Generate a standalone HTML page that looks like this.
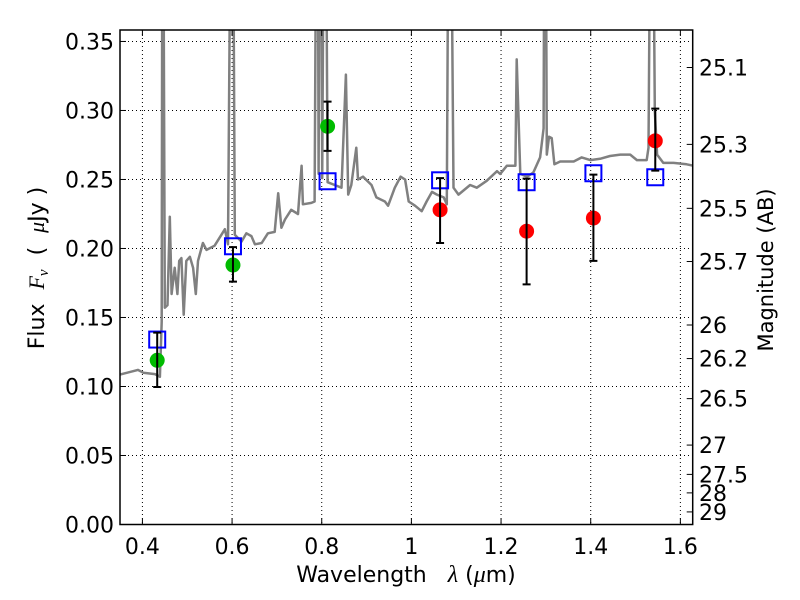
<!DOCTYPE html>
<html><head><meta charset="utf-8"><style>
body{margin:0;background:#fff}
svg{display:block;font-family:"DejaVu Sans","Liberation Sans",sans-serif}
</style></head><body>
<svg id="chart" width="800" height="600" viewBox="0 0 800 600">
<defs><clipPath id="plotclip"><rect x="120" y="30" width="572.7" height="494.5"/></clipPath></defs>
<rect x="0" y="0" width="800" height="600" fill="#fff"/>
<g id="grid"></g>
<g id="spec" clip-path="url(#plotclip)"></g>
<g id="marks"></g>
<rect x="120" y="30" width="572.7" height="494.5" fill="none" stroke="#000" stroke-width="1.5"/>
<g id="ticks"></g>
<text x="406" y="582" font-size="22" text-anchor="middle" xml:space="preserve">Wavelength   <tspan font-family="Liberation Serif" font-style="italic" font-size="24">λ</tspan> (<tspan font-family="Liberation Serif" font-style="italic" font-size="24">μ</tspan>m)</text>
<text transform="translate(44,268) rotate(-90)" font-size="22" text-anchor="middle" xml:space="preserve">Flux  <tspan font-family="Liberation Serif" font-style="italic">F<tspan font-size="15" dy="4">ν</tspan></tspan><tspan dy="-4">  (  </tspan><tspan font-family="Liberation Serif" font-style="italic">μ</tspan>Jy )</text>
<text transform="translate(773,270) rotate(-90)" font-size="21" text-anchor="middle">Magnitude (AB)</text>
</svg>
<script>
const specLam=[0.35,0.390,0.402,0.428,0.439,0.443,0.445,0.450,0.456,0.461,0.465,0.472,0.478,0.482,0.487,0.492,0.498,0.506,0.513,0.519,0.524,0.535,0.543,0.561,0.584,0.591,0.600,0.606,0.621,0.632,0.643,0.651,0.666,0.680,0.695,0.703,0.710,0.718,0.732,0.747,0.755,0.758,0.777,0.784,0.790,0.793,0.797,0.801,0.807,0.813,0.829,0.844,0.854,0.859,0.866,0.877,0.881,0.892,0.911,0.922,0.941,0.948,0.963,0.976,0.986,0.994,1.008,1.023,1.034,1.046,1.057,1.072,1.079,1.085,1.094,1.105,1.131,1.146,1.168,1.191,1.198,1.213,1.232,1.235,1.243,1.258,1.272,1.287,1.295,1.298,1.302,1.307,1.313,1.319,1.332,1.362,1.380,1.399,1.421,1.443,1.466,1.488,1.503,1.525,1.529,1.536,1.543,1.548,1.562,1.585,1.614,1.629];
const specFlux=[0.1086,0.112,0.110,0.109,0.107,0.147,0.6,0.157,0.159,0.223,0.167,0.186,0.167,0.191,0.193,0.152,0.191,0.194,0.186,0.167,0.191,0.204,0.199,0.202,0.214,0.203,0.6,0.210,0.205,0.211,0.209,0.203,0.204,0.211,0.212,0.240,0.215,0.221,0.228,0.225,0.260,0.232,0.233,0.234,0.6,0.254,0.6,0.251,0.6,0.248,0.246,0.244,0.326,0.239,0.246,0.273,0.250,0.252,0.246,0.237,0.234,0.231,0.244,0.252,0.250,0.234,0.231,0.227,0.234,0.241,0.239,0.237,0.232,0.6,0.244,0.239,0.246,0.244,0.249,0.256,0.254,0.260,0.260,0.337,0.254,0.252,0.255,0.266,0.287,0.6,0.268,0.281,0.280,0.261,0.263,0.263,0.266,0.264,0.265,0.267,0.268,0.268,0.264,0.264,0.273,0.6,0.30,0.268,0.262,0.262,0.261,0.260];
const obsLam=[0.433,0.602,0.813,1.064,1.257,1.406,1.544];
const obsFlux=[0.119,0.188,0.2885,0.228,0.2125,0.222,0.278];
const obsErrLo=[0.0194,0.012,0.0178,0.024,0.0385,0.031,0.0216];
const obsErrHi=[0.020,0.013,0.0179,0.023,0.0381,0.0315,0.0233];
const obsColor=['#00bb00','#00bb00','#00bb00','#ff0000','#ff0000','#ff0000','#ff0000'];
const modelFlux=[0.134,0.2016,0.2487,0.2494,0.248,0.2545,0.2516];
const xTicks=[0.4,0.6,0.8,1.0,1.2,1.4,1.6];
const xTickLabels=['0.4','0.6','0.8','1','1.2','1.4','1.6'];
const yTicks=[0,0.05,0.10,0.15,0.20,0.25,0.30,0.35];
const yTickLabels=['0.00','0.05','0.10','0.15','0.20','0.25','0.30','0.35'];
const magTicks=[25.1,25.3,25.5,25.7,26,26.2,26.5,27,27.5,28,29];
const magLabels=['25.1','25.3','25.5','25.7','26','26.2','26.5','27','27.5','28','29'];

const X0=120,X1=692.7,Y0=524.5,Y1=30,LMIN=0.35,LMAX=1.6275,FMIN=0,FMAX=0.3583;
const sx=l=>X0+(l-LMIN)/(LMAX-LMIN)*(X1-X0);
const sy=f=>Y0-(f-FMIN)/(FMAX-FMIN)*(Y0-Y1);
const NS='http://www.w3.org/2000/svg';
function mk(tag,attrs,parent){const e=document.createElementNS(NS,tag);for(const k in attrs)e.setAttribute(k,attrs[k]);parent.appendChild(e);return e;}
const grid=document.getElementById('grid'),ticks=document.getElementById('ticks'),spec=document.getElementById('spec'),marks=document.getElementById('marks');

xTicks.forEach((v,i)=>{const x=sx(v);
 const g=mk('line',{x1:x,x2:x,y1:Y1,y2:Y0,stroke:'#000','stroke-width':1,'stroke-dasharray':'1,3'},grid);
 
 
 const t1=mk('line',{x1:x,x2:x,y1:Y0,y2:Y0-6,stroke:'#000'},ticks);
 
 
 const t2=mk('line',{x1:x,x2:x,y1:Y1,y2:Y1+6,stroke:'#000'},ticks);
 
 
 const tx=mk('text',{x:x,y:554,'font-size':22,'text-anchor':'middle'},ticks);tx.textContent=xTickLabels[i];
 
 
});
yTicks.forEach((v,i)=>{const y=sy(v);
 const g=mk('line',{x1:X0,x2:X1,y1:y,y2:y,stroke:'#000','stroke-width':1,'stroke-dasharray':'1,3'},grid);
 
 
 const t=mk('line',{x1:X0,x2:X0+6,y1:y,y2:y,stroke:'#000'},ticks);
 
 
 const tx=mk('text',{x:114,y:y+8,'font-size':22,'text-anchor':'end'},ticks);tx.textContent=yTickLabels[i];
 
 
});
magTicks.forEach((m,i)=>{const y=sy(Math.pow(10,(23.9-m)/2.5));
 const t=mk('line',{x1:X1,x2:X1-6,y1:y,y2:y,stroke:'#000'},ticks);
 
 
 const tx=mk('text',{x:699,y:y+8,'font-size':22},ticks);tx.textContent=magLabels[i];
 
 
});
const pts=specLam.map((l,i)=>sx(l).toFixed(1)+','+sy(specFlux[i]).toFixed(1)).join(' ');
const pl=mk('polyline',{points:pts,fill:'none',stroke:'#808080','stroke-width':2.5,'stroke-linejoin':'round'},spec);


obsLam.forEach((l,i)=>{const x=sx(l);
 const b=mk('rect',{x:x-8,y:sy(modelFlux[i])-8,width:16,height:16,fill:'none',stroke:'#0000ff','stroke-width':2},marks);
 
 
 const c=mk('circle',{cx:x,cy:sy(obsFlux[i]),r:7.5,fill:obsColor[i]},marks);
 
 
 const yt=sy(obsFlux[i]+obsErrHi[i]),yb=sy(obsFlux[i]-obsErrLo[i]);
 const e=mk('path',{d:`M${x},${yt}V${yb}M${x-4},${yt}H${x+4}M${x-4},${yb}H${x+4}`,stroke:'#000','stroke-width':2,fill:'none'},marks);
 
 
});
</script>
</body></html>
